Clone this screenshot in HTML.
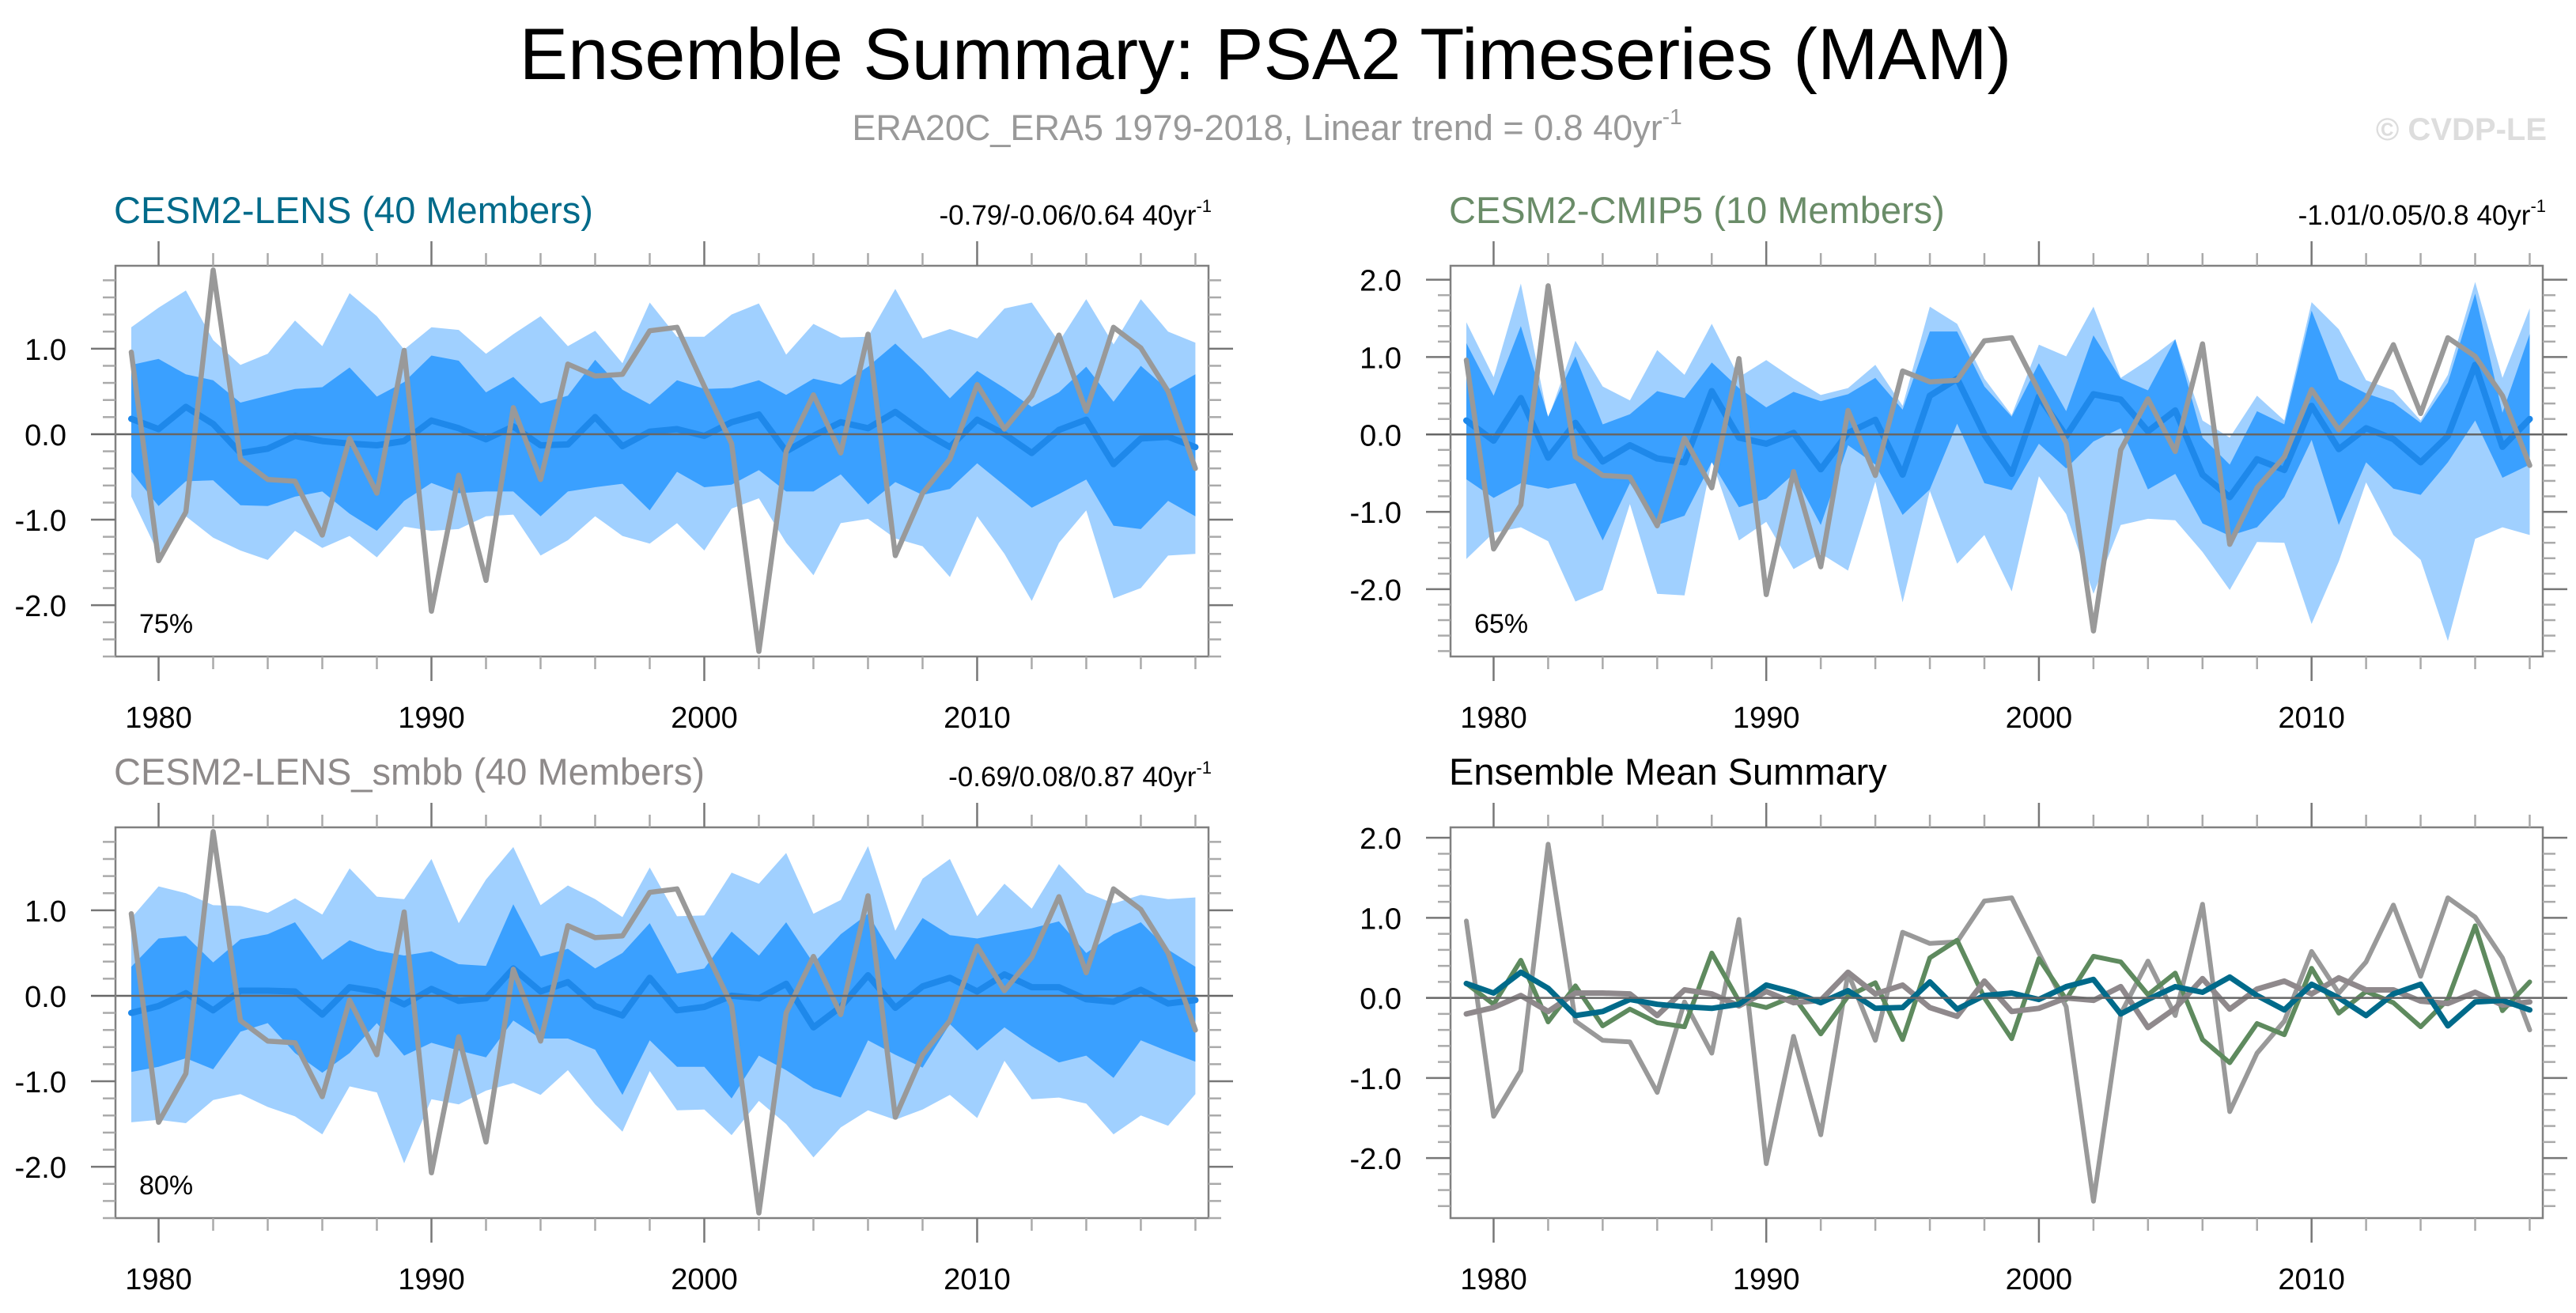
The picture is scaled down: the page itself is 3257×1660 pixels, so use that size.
<!DOCTYPE html>
<html><head><meta charset="utf-8"><style>
html,body{margin:0;padding:0;background:#fff;}
svg{display:block;font-family:"Liberation Sans",Arial,sans-serif;}
</style></head><body>
<svg id="fig" width="3257" height="1660" viewBox="0 0 3257 1660" xmlns="http://www.w3.org/2000/svg">
<rect width="3257" height="1660" fill="#fff"/>
<text x="1600" y="100" font-size="92" text-anchor="middle" fill="#000">Ensemble Summary: PSA2 Timeseries (MAM)</text>
<text x="1602" y="177" font-size="45" text-anchor="middle" fill="#999">ERA20C_ERA5 1979-2018, Linear trend = 0.8 40yr<tspan font-size="28" dy="-20">-1</tspan></text>
<text x="3220" y="177" font-size="40" font-weight="bold" text-anchor="end" fill="#ddd">© CVDP-LE</text>
</svg>
<script>
const years = [1979,1980,1981,1982,1983,1984,1985,1986,1987,1988,1989,1990,1991,1992,1993,1994,1995,1996,1997,1998,1999,2000,2001,2002,2003,2004,2005,2006,2007,2008,2009,2010,2011,2012,2013,2014,2015,2016,2017,2018];
const obs = [0.96,-1.48,-0.91,1.92,-0.29,-0.53,-0.55,-1.18,-0.05,-0.69,0.98,-2.07,-0.48,-1.71,0.31,-0.53,0.82,0.68,0.70,1.21,1.25,0.56,-0.11,-2.54,-0.20,0.46,-0.22,1.17,-1.42,-0.69,-0.29,0.58,0.06,0.45,1.16,0.27,1.25,1.01,0.50,-0.40];
// CESM2-LENS
const lensMean = [0.18,0.06,0.32,0.12,-0.22,-0.17,-0.02,-0.08,-0.11,-0.13,-0.08,0.16,0.07,-0.06,0.09,-0.13,-0.12,0.20,-0.14,0.03,0.06,-0.02,0.14,0.23,-0.20,-0.02,0.14,0.07,0.26,0.03,-0.15,0.17,0.00,-0.22,0.05,0.17,-0.35,-0.05,-0.03,-0.15];
const lensDarkHi = [0.81,0.88,0.70,0.63,0.37,0.45,0.53,0.55,0.78,0.44,0.61,0.92,0.86,0.49,0.67,0.36,0.45,0.87,0.52,0.35,0.63,0.53,0.54,0.63,0.46,0.65,0.58,0.79,1.06,0.76,0.42,0.74,0.54,0.32,0.49,0.79,0.38,0.80,0.52,0.70];
const lensDarkLo = [-0.44,-0.84,-0.55,-0.54,-0.83,-0.84,-0.73,-0.67,-0.93,-1.13,-0.78,-0.57,-0.69,-0.67,-0.67,-0.96,-0.67,-0.62,-0.58,-0.89,-0.44,-0.62,-0.59,-0.42,-0.67,-0.67,-0.47,-0.82,-0.56,-0.71,-0.64,-0.34,-0.60,-0.86,-0.70,-0.53,-1.07,-1.11,-0.78,-0.96];
const lensLightHi = [1.25,1.48,1.68,1.10,0.81,0.94,1.33,1.03,1.65,1.38,0.99,1.25,1.22,0.94,1.17,1.38,1.03,1.21,0.83,1.54,1.14,1.14,1.40,1.53,0.93,1.29,1.13,1.14,1.70,1.12,1.23,1.12,1.47,1.54,1.08,1.58,1.05,1.58,1.20,1.07];
const lensLightLo = [-0.73,-1.40,-0.96,-1.21,-1.36,-1.47,-1.13,-1.33,-1.19,-1.44,-1.08,-1.13,-1.11,-0.96,-0.94,-1.42,-1.24,-0.96,-1.19,-1.28,-1.04,-1.36,-0.87,-0.75,-1.27,-1.65,-1.04,-0.99,-1.22,-1.31,-1.67,-0.96,-1.40,-1.95,-1.27,-0.89,-1.92,-1.80,-1.42,-1.40];
// CESM2-CMIP5
const cmipMean = [0.18,-0.08,0.47,-0.30,0.15,-0.35,-0.14,-0.31,-0.36,0.56,-0.04,-0.12,0.02,-0.45,0.02,0.19,-0.52,0.50,0.72,0.00,-0.51,0.49,-0.02,0.52,0.45,0.04,0.31,-0.52,-0.81,-0.32,-0.46,0.37,-0.19,0.08,-0.06,-0.36,-0.02,0.90,-0.16,0.20];
const cmipDarkHi = [1.18,0.50,1.40,0.23,1.01,0.13,0.26,0.56,0.47,0.93,0.60,0.35,0.55,0.43,0.52,0.73,0.32,1.33,1.33,0.62,0.23,0.92,0.30,1.28,0.72,0.57,1.23,-0.04,-0.39,0.30,0.13,1.60,0.71,0.53,0.41,0.15,0.67,1.82,0.28,1.30];
const cmipDarkLo = [-0.58,-0.82,-0.63,-0.70,-0.63,-1.37,-0.63,-1.17,-1.05,-0.36,-0.94,-0.83,-0.51,-1.17,-0.14,-0.39,-1.04,-0.71,0.14,-0.63,-0.72,-0.12,-0.44,-0.09,0.08,-0.71,-0.51,-1.15,-1.31,-1.20,-0.81,-0.07,-1.17,-0.36,-0.70,-0.78,-0.36,0.18,-0.56,-0.39];
const cmipLightHi = [1.45,0.74,1.95,0.20,1.21,0.62,0.44,1.09,0.77,1.43,0.74,0.96,0.72,0.51,0.60,0.90,0.37,1.65,1.43,0.72,0.25,1.16,1.01,1.65,0.73,0.96,1.23,0.18,-0.04,0.50,0.18,1.71,1.36,0.70,0.57,0.18,0.77,1.97,0.73,1.63];
const cmipLightLo = [-1.61,-1.27,-1.20,-1.38,-2.16,-2.01,-0.90,-2.06,-2.08,-0.34,-1.37,-1.13,-1.74,-1.54,-1.76,-0.61,-2.17,-0.73,-1.67,-1.30,-2.03,-0.54,-1.03,-2.06,-1.17,-1.09,-1.11,-1.52,-2.01,-1.39,-1.40,-2.45,-1.64,-0.62,-1.30,-1.62,-2.67,-1.35,-1.20,-1.30];
// CESM2-LENS_smbb
const smbbMean = [-0.20,-0.12,0.03,-0.17,0.06,0.06,0.05,-0.22,0.10,0.05,-0.10,0.08,-0.06,-0.03,0.32,0.05,0.16,-0.12,-0.23,0.21,-0.17,-0.13,0.00,-0.03,0.14,-0.37,-0.13,0.24,-0.14,0.11,0.21,0.05,0.25,0.10,0.10,-0.04,-0.07,0.07,-0.09,-0.05];
const smbbDarkHi = [0.34,0.67,0.70,0.39,0.66,0.72,0.86,0.42,0.65,0.53,0.47,0.52,0.37,0.35,1.07,0.46,0.55,0.32,0.50,0.85,0.26,0.32,0.75,0.47,0.86,0.38,0.72,0.96,0.42,0.91,0.71,0.67,0.73,0.79,0.87,0.50,0.72,0.86,0.54,0.34];
const smbbDarkLo = [-0.89,-0.83,-0.73,-0.86,-0.42,-0.32,-0.67,-0.90,-0.67,-0.32,-0.70,-0.55,-0.64,-0.72,-0.29,-0.50,-0.50,-0.63,-1.16,-0.52,-0.83,-0.83,-1.20,-0.70,-0.87,-1.08,-1.19,-0.52,-0.69,-0.84,-0.33,-0.64,-0.37,-0.59,-0.78,-0.70,-0.96,-0.52,-0.65,-0.77];
const smbbLightHi = [0.91,1.28,1.20,1.06,1.05,0.97,1.14,0.95,1.49,1.16,1.13,1.60,0.85,1.36,1.74,1.06,1.29,1.13,0.92,1.50,0.93,0.94,1.44,1.31,1.67,0.96,1.12,1.75,0.76,1.37,1.60,0.93,1.31,1.02,1.54,1.21,1.08,1.18,1.13,1.15];
const smbbLightLo = [-1.48,-1.45,-1.49,-1.22,-1.15,-1.30,-1.41,-1.62,-1.06,-1.13,-1.96,-1.21,-1.27,-1.11,-1.02,-1.16,-0.87,-1.27,-1.59,-0.88,-1.34,-1.33,-1.63,-1.23,-1.50,-1.89,-1.54,-1.34,-1.45,-1.33,-1.16,-1.43,-0.76,-1.21,-1.19,-1.26,-1.62,-1.40,-1.52,-1.15];
const xTickLabels = ["1980","1990","2000","2010"];
const xTickYears = [1980,1990,2000,2010];

const NS = "http://www.w3.org/2000/svg";
const svg = document.getElementById("fig");
function mk(tag, attrs, parent){const e=document.createElementNS(NS,tag);for(const k in attrs)e.setAttribute(k,attrs[k]);(parent||svg).appendChild(e);return e;}

const X0 = 1978.42, X1 = 2018.48;
function makePanel(p){
  const g = mk("g",{});
  
  
  const sx = v => p.x0 + (v - X0) / (X1 - X0) * (p.x1 - p.x0);
  const sy = v => p.y1 - (v - p.ymin) / (p.ymax - p.ymin) * (p.y1 - p.y0);
  const clipId = "clip-" + p.name;
  const defs = mk("defs",{},g);
  const cp = mk("clipPath",{id:clipId},defs);
  mk("rect",{x:p.x0,y:p.y0,width:p.x1-p.x0,height:p.y1-p.y0},cp);
  const plot = mk("g",{"clip-path":"url(#"+clipId+")"},g);
  function band(hi, lo, color, nm){
    let d = "";
    hi.forEach((v,i)=>{d += (i?"L":"M") + sx(years[i]).toFixed(1) + "," + sy(v).toFixed(1);});
    for(let i=lo.length-1;i>=0;i--) d += "L" + sx(years[i]).toFixed(1) + "," + sy(lo[i]).toFixed(1);
    const e = mk("path",{d:d+"Z",fill:color},plot);
    
    
  }
  function line(vals, color, w, nm){
    const pts = vals.map((v,i)=>sx(years[i]).toFixed(1)+","+sy(v).toFixed(1)).join(" ");
    const e = mk("polyline",{points:pts,fill:"none",stroke:color,"stroke-width":w,"stroke-linejoin":"round","stroke-linecap":"round"},plot);
    
    
  }
  if(p.bands){
    band(p.bands.lh, p.bands.ll, "#a0d0ff", "outer-spread-band");
    band(p.bands.dh, p.bands.dl, "#3aa0ff", "inner-spread-band");
  }
  const z = mk("line",{x1:p.x0-31,x2:p.x1+31,y1:sy(0),y2:sy(0),stroke:"#666","stroke-width":2.5},g);
  
  
  p.lines.forEach(l=>line(l.v,l.c,l.w,l.n));
  const fr = mk("rect",{x:p.x0,y:p.y0,width:p.x1-p.x0,height:p.y1-p.y0,fill:"none",stroke:"#808080","stroke-width":2.5},g);
  
  
  for(let yr=1980; yr<=2018; yr+=2){
    const major = yr % 10 === 0;
    const L = major ? 31 : 16;
    const x = sx(yr);
    mk("line",{x1:x,x2:x,y1:p.y0,y2:p.y0-L,stroke:major?"#777":"#aaa","stroke-width":2.5},g);
    mk("line",{x1:x,x2:x,y1:p.y1,y2:p.y1+L,stroke:major?"#777":"#aaa","stroke-width":2.5},g);
  }
  xTickYears.forEach((yr,i)=>{
    const t = mk("text",{x:sx(yr),y:p.y1+90,"font-size":38,"text-anchor":"middle",fill:"#000"},g);
    t.textContent = xTickLabels[i];
    
    
  });
  for(let k=Math.ceil(p.ymin*5); k<=Math.floor(p.ymax*5); k++){
    const v = k/5;
    const major = k % 5 === 0;
    const L = major ? 31 : 16;
    const y = sy(v);
    if(!(major && k===0)){
      mk("line",{x1:p.x0,x2:p.x0-L,y1:y,y2:y,stroke:major?"#777":"#aaa","stroke-width":2.5},g);
      mk("line",{x1:p.x1,x2:p.x1+L,y1:y,y2:y,stroke:major?"#777":"#aaa","stroke-width":2.5},g);
    }
    if(major){
      const t = mk("text",{x:p.x0-62,y:y+14,"font-size":38,"text-anchor":"end",fill:"#000"},g);
      t.textContent = v.toFixed(1);
      
      
    }
  }
  const tt = mk("text",{x:p.x0-2,y:p.y0-54,"font-size":47,fill:p.titleColor},g);
  tt.textContent = p.title;
  
  
  if(p.trend){
    const tr = mk("text",{x:p.x1+4,y:p.y0-52,"font-size":35,"text-anchor":"end",fill:"#000"},g);
    tr.innerHTML = p.trend + ' 40yr<tspan font-size="22" dy="-16">-1</tspan>';
    
    
  }
  if(p.pct){
    const pc = mk("text",{x:p.x0+30,y:p.y0+464,"font-size":34,fill:"#000"},g);
    pc.textContent = p.pct;
    
    
  }
}

makePanel({name:"panel-cesm2-lens",x0:146,x1:1528,y0:336,y1:830,ymin:-2.60,ymax:1.97,
  title:"CESM2-LENS (40 Members)",titleColor:"#006a8a",trend:"-0.79/-0.06/0.64",pct:"75%",
  bands:{lh:lensLightHi,ll:lensLightLo,dh:lensDarkHi,dl:lensDarkLo},
  lines:[{v:lensMean,c:"#1e88ea",w:8,n:"ensemble-mean-line"},{v:obs,c:"#999",w:6.5,n:"observed-line"}]});
makePanel({name:"panel-cesm2-cmip5",x0:1834,x1:3215,y0:336,y1:830,ymin:-2.87,ymax:2.18,
  title:"CESM2-CMIP5 (10 Members)",titleColor:"#6a8c68",trend:"-1.01/0.05/0.8",pct:"65%",
  bands:{lh:cmipLightHi,ll:cmipLightLo,dh:cmipDarkHi,dl:cmipDarkLo},
  lines:[{v:cmipMean,c:"#1e88ea",w:8,n:"ensemble-mean-line"},{v:obs,c:"#999",w:6.5,n:"observed-line"}]});
makePanel({name:"panel-cesm2-lens-smbb",x0:146,x1:1528,y0:1046,y1:1540,ymin:-2.60,ymax:1.97,
  title:"CESM2-LENS_smbb (40 Members)",titleColor:"#8e8a8a",trend:"-0.69/0.08/0.87",pct:"80%",
  bands:{lh:smbbLightHi,ll:smbbLightLo,dh:smbbDarkHi,dl:smbbDarkLo},
  lines:[{v:smbbMean,c:"#1e88ea",w:8,n:"ensemble-mean-line"},{v:obs,c:"#999",w:6.5,n:"observed-line"}]});
makePanel({name:"panel-ensemble-mean-summary",x0:1834,x1:3215,y0:1046,y1:1540,ymin:-2.75,ymax:2.13,
  title:"Ensemble Mean Summary",titleColor:"#000",
  lines:[{v:obs,c:"#999",w:6,n:"observed-line"},
         {v:cmipMean,c:"#5e8a5e",w:6,n:"cmip5-mean-line"},
         {v:smbbMean,c:"#8f898c",w:7,n:"smbb-mean-line"},
         {v:lensMean,c:"#006a8a",w:7,n:"lens-mean-line"}]});
</script>
</body></html>
